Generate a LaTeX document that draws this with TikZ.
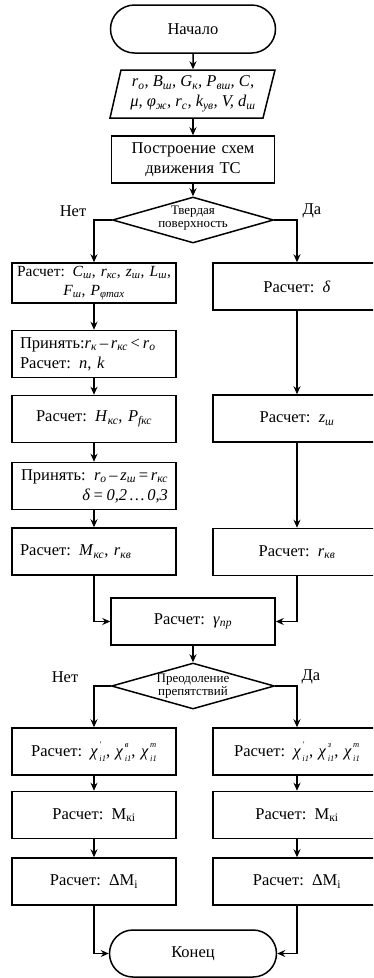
\documentclass[tikz,border=0pt]{standalone}
\usepackage{fontspec}
\setmainfont{Liberation Serif}
\usetikzlibrary{shapes.geometric,shapes.misc,arrows.meta}
\newcommand\myv[2]{\textit{#1}\textsubscript{\textit{#2}}}
\newcommand\myss[3]{\textit{#1}\kern1.5pt\raisebox{-5.5pt}{\fontsize{8.5}{14.5}\selectfont\itshape\begin{tabular}[b]{@{}l@{}}#2\\#3\end{tabular}}}
\newcommand\bfnt{\fontsize{16.5}{20}\selectfont}
\newcommand\dfnt{\fontsize{13}{13.5}\selectfont}
\begin{document}
\begin{tikzpicture}[x=1pt,y=-1pt,line width=1.5pt,
  >={Stealth[length=8pt,width=7pt]},
  every node/.style={font=\bfnt},
  term/.style={draw,rounded rectangle,minimum width=165pt,minimum height=48pt,inner sep=0pt},
  lbox/.style={draw,rectangle,minimum height=47pt,inner xsep=8pt,inner ysep=0pt,text width=148pt,align=center},
  rbox/.style={draw,rectangle,minimum height=47pt,inner xsep=8pt,inner ysep=0pt,text width=152pt,align=center},
  dec/.style={draw,diamond,inner sep=0pt,minimum height=46pt},
  dtext/.style={font=\dfnt,align=center,inner sep=0pt},
  lab/.style={inner sep=0pt}]
\useasboundingbox (0,0) rectangle (373,978);
\clip (0,0) rectangle (373,978);

% top part
\node[term] (start) at (193,29) {Начало};
\node[minimum width=150pt,minimum height=48pt,inner sep=0pt,align=center] (par) at (193,94)
  {\itshape r\textsubscript{o}, B\textsubscript{ш}, G\textsubscript{к}, P\textsubscript{вш}, C,\\
   \itshape μ, φ\textsubscript{ж}, r\textsubscript{c}, k\textsubscript{ув}, V, d\textsubscript{ш}};
\draw (110,118) -- (121,70) -- (275,70) -- (263,118) -- cycle;
\node[lbox,text width=147pt] (build) at (193,159.5) {Построение схем\\движения ТС};
\node[dec,minimum width=161pt] (d1) at (193,220) {};
\node[dtext] (d1t) at (193,218) {Твердая\\поверхность};
\node[lab] (no1) at (73,211) {Нет};
\node[lab] (yes1) at (312,211) {Да};

% left column
\node[lbox,minimum height=40pt,inner xsep=2pt,text width=160pt,font=\fontsize{15.5}{19}\selectfont] (lb1) at (94,283)
  {\mbox{Расчет: \myv{C}{ш}, \myv{r}{кс}, \myv{z}{ш}, \myv{L}{ш},}\\ \mbox{\myv{F}{ш}, \myv{P}{φmax}}};
\node[lbox,align=left] (lb2) at (94,354)
  {Принять:\myv{r}{к}\,–\,\myv{r}{кс}\,<\,\myv{r}{o}\\Расчет: \textit{n}, \textit{k}};
\node[lbox] (lb3) at (94,419) {Расчет: \myv{H}{кс}, \myv{P}{fкс}};
\node[lbox,align=right] (lb4) at (94,486)
  {Принять: \myv{r}{o}\,–\,\myv{z}{ш}\,=\,\myv{r}{кс}\\ \textit{δ\,=\,0,2\,…\,0,3}};
\node[lbox,align=left] (lb5) at (94,551.5) {Расчет: \myv{M}{кс}, \myv{r}{кв}};

% right column
\node[rbox] (rb1) at (297,286.5) {Расчет: \textit{δ}};
\node[rbox] (rb2) at (297,418.5) {Расчет: \myv{z}{ш}};
\node[rbox] (rb3) at (297,552) {Расчет: \myv{r}{кв}};

% middle
\node[lbox] (gam) at (193,621.5) {Расчет: \myv{γ}{пр}};
\node[dec,minimum width=163pt] (d2) at (193,686) {};
\node[dtext] (d2t) at (193,686) {Преодоление\\препятствий};
\node[lab] (no2) at (65,677) {Нет};
\node[lab] (yes2) at (311,677) {Да};

% bottom columns
\node[lbox] (lc1) at (94,751.5) {Расчет: \myss{χ}{′}{i1}, \myss{χ}{в}{i1}, \myss{χ}{т}{i1}};
\node[lbox] (lc2) at (94,815) {Расчет: M\textsubscript{кi}};
\node[lbox] (lc3) at (94,881.5) {Расчет: ΔM\textsubscript{i}};
\node[rbox] (rc1) at (297,751.5) {Расчет: \myss{χ}{′}{i1}, \myss{χ}{з}{i1}, \myss{χ}{т}{i1}};
\node[rbox] (rc2) at (297,815) {Расчет: M\textsubscript{кi}};
\node[rbox] (rc3) at (297,881.5) {Расчет: ΔM\textsubscript{i}};
\node[term,minimum width=167pt,minimum height=47pt] (end) at (193,953.5) {Конец};

% connectors
\draw[->] (start) -- (par);
\draw[->] (par) -- (build);
\draw[->] (build) -- (d1);
\draw[->] (d1.west) -| (lb1.north);
\draw[->] (d1.east) -| (rb1.north);
\draw[->] (lb1) -- (lb2);
\draw[->] (lb2) -- (lb3);
\draw[->] (lb3) -- (lb4);
\draw[->] (lb4) -- (lb5);
\draw[->] (rb1) -- (rb2);
\draw[->] (rb2) -- (rb3);
\draw[->] (lb5.south) |- (gam.west);
\draw[->] (rb3.south) |- (gam.east);
\draw[->] (gam) -- (d2);
\draw[->] (d2.west) -| (lc1.north);
\draw[->] (d2.east) -| (rc1.north);
\draw[->] (lc1) -- (lc2);
\draw[->] (lc2) -- (lc3);
\draw[->] (rc1) -- (rc2);
\draw[->] (rc2) -- (rc3);
\draw[->] (lc3.south) |- (end.west);
\draw[->] (rc3.south) |- (end.east);
\end{tikzpicture}
\end{document}
